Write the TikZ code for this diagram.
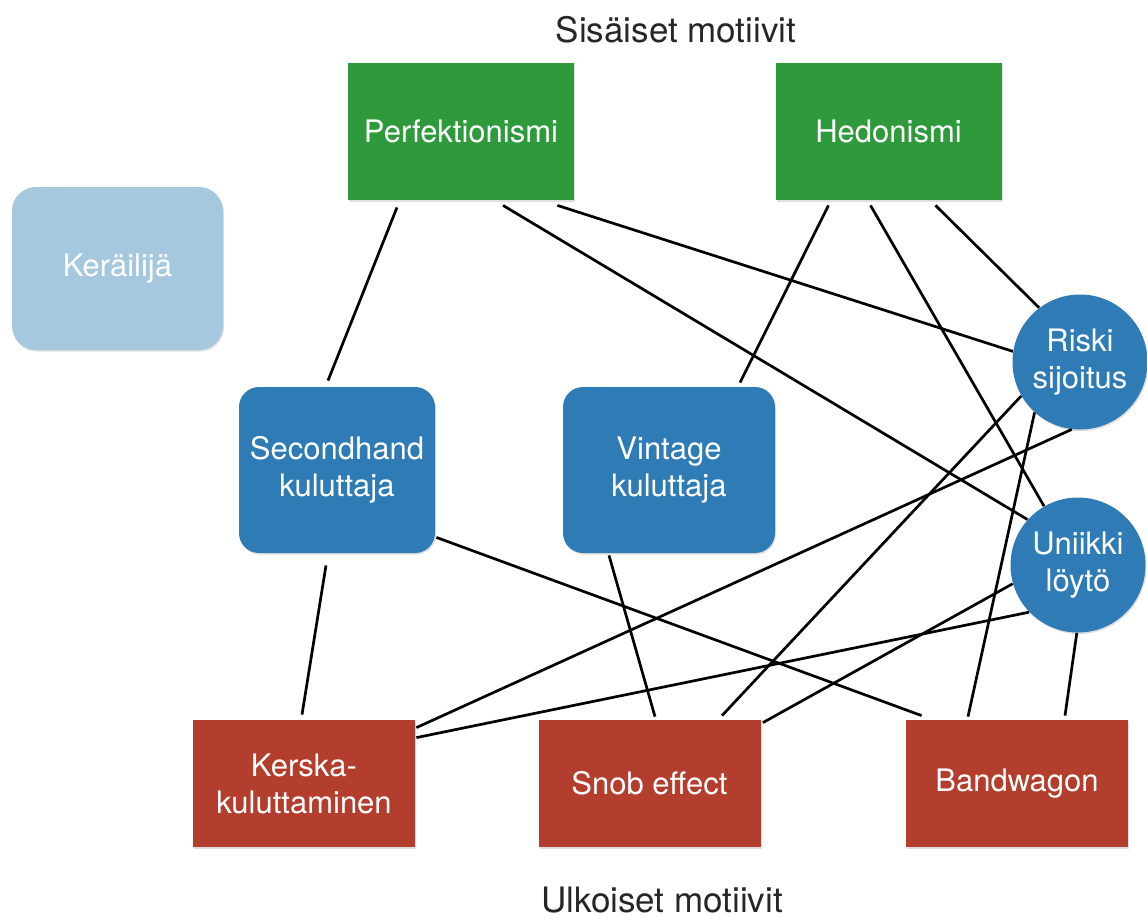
\documentclass[tikz,border=0pt]{standalone}
\usepackage{fontspec}
\setmainfont{TeX Gyre Heros}
\usetikzlibrary{
  positioning,
  calc,
  shadows
}

\definecolor{motgreen}{RGB}{46,154,60}
\definecolor{motblue}{RGB}{47,123,182}
\definecolor{motpale}{RGB}{166,200,223}
\definecolor{motred}{RGB}{180,62,45}

\begin{document}
\begin{tikzpicture}[
    x=0.5pt, y=-0.5pt,
    font=\fontsize{15.5}{18.5}\selectfont,
    title/.style={font=\fontsize{17.5}{20}\selectfont, text=black!85},
    box/.style={
      draw=none,
      text=white,
      align=center,
      inner sep=0pt,
      drop shadow={opacity=0.25, shadow xshift=0.5pt, shadow yshift=-0.8pt}
      },
    sisainen/.style={box, rectangle, fill=motgreen, minimum width=113pt, minimum height=68.5pt},
    ulkoinen/.style={box, rectangle, fill=motred, minimum width=111pt, minimum height=63.5pt},
    kuluttaja/.style={box, rectangle, rounded corners=10pt, fill=motblue, minimum height=83pt},
    pallo/.style={box, circle, fill=motblue, minimum size=67.5pt},
    link/.style={line width=1.35pt, black}
    ]

\useasboundingbox (0,0) rectangle (1147,918);

\node[title] (sis) at (676,30) {Sisäiset motiivit};
\node[title] (ulk) at (662,900) {Ulkoiset motiivit};

\node[sisainen] (perf) at (461,131.5) {Perfektionismi};
\node[sisainen] (hedo) at (888.5,131.5) {Hedonismi};

\node[kuluttaja, rounded corners=12pt, fill=motpale, minimum width=105.5pt, minimum height=81.5pt] (keraili) at (117.5,268.5) {Keräilijä};

\node[kuluttaja, minimum width=98pt] (second) at (337,470) {Secondhand\\kuluttaja};
\node[kuluttaja, minimum width=106pt] (vintage) at (669,470) {Vintage\\kuluttaja};

\node[pallo] (riski) at (1080,362) {Riski\\sijoitus};
\node[pallo] (uniikki) at (1078,565) {Uniikki\\löytö};

\node[ulkoinen] (kerska) at (304,783.5) {Kerska-\\kuluttaminen};
\node[ulkoinen] (snob) at (649.5,783.5) {Snob effect};
\node[ulkoinen] (band) at (1017,783.5) {Bandwagon};

% sisaiset motiivit
\draw[link] ($(perf.south)+(-64,7)$) -- ($(second.north)+(-9,-6)$);
\draw[link] ($(perf.south)+(42,5)$) -- (uniikki.138);
\draw[link] ($(perf.south east)+(-17,5)$) -- (riski.171);
\draw[link] ($(hedo.south)+(-60,5)$) -- ($(vintage.north)+(71,-4)$);
\draw[link] ($(hedo.south)+(-18,5)$) -- (uniikki.120);
\draw[link] ($(hedo.south)+(47,5)$) -- (riski.127);

% ulkoiset motiivit
\draw[link] ($(second.south east)+(1,-16)$) -- ($(band.north west)+(16,-4)$);
\draw[link] ($(second.south)+(-11,12)$) -- ($(kerska.north)+(-2,-5)$);
\draw[link] ($(vintage.south)+(-60,2)$) -- ($(snob.north)+(5.5,-3)$);
\draw[link] ($(kerska.north east)+(1,8)$) -- (riski.263);
\draw[link] ($(kerska.north east)+(1,18)$) -- (uniikki.224);
\draw[link] ($(snob.north)+(72.5,-4)$) -- (riski.210);
\draw[link] ($(snob.north east)+(2,3)$) -- (uniikki.196);
\draw[link] ($(band.north)+(-49,-3)$) -- (riski.228);
\draw[link] ($(band.north)+(48,-4)$) -- (uniikki.269);
\end{tikzpicture}
\end{document}
